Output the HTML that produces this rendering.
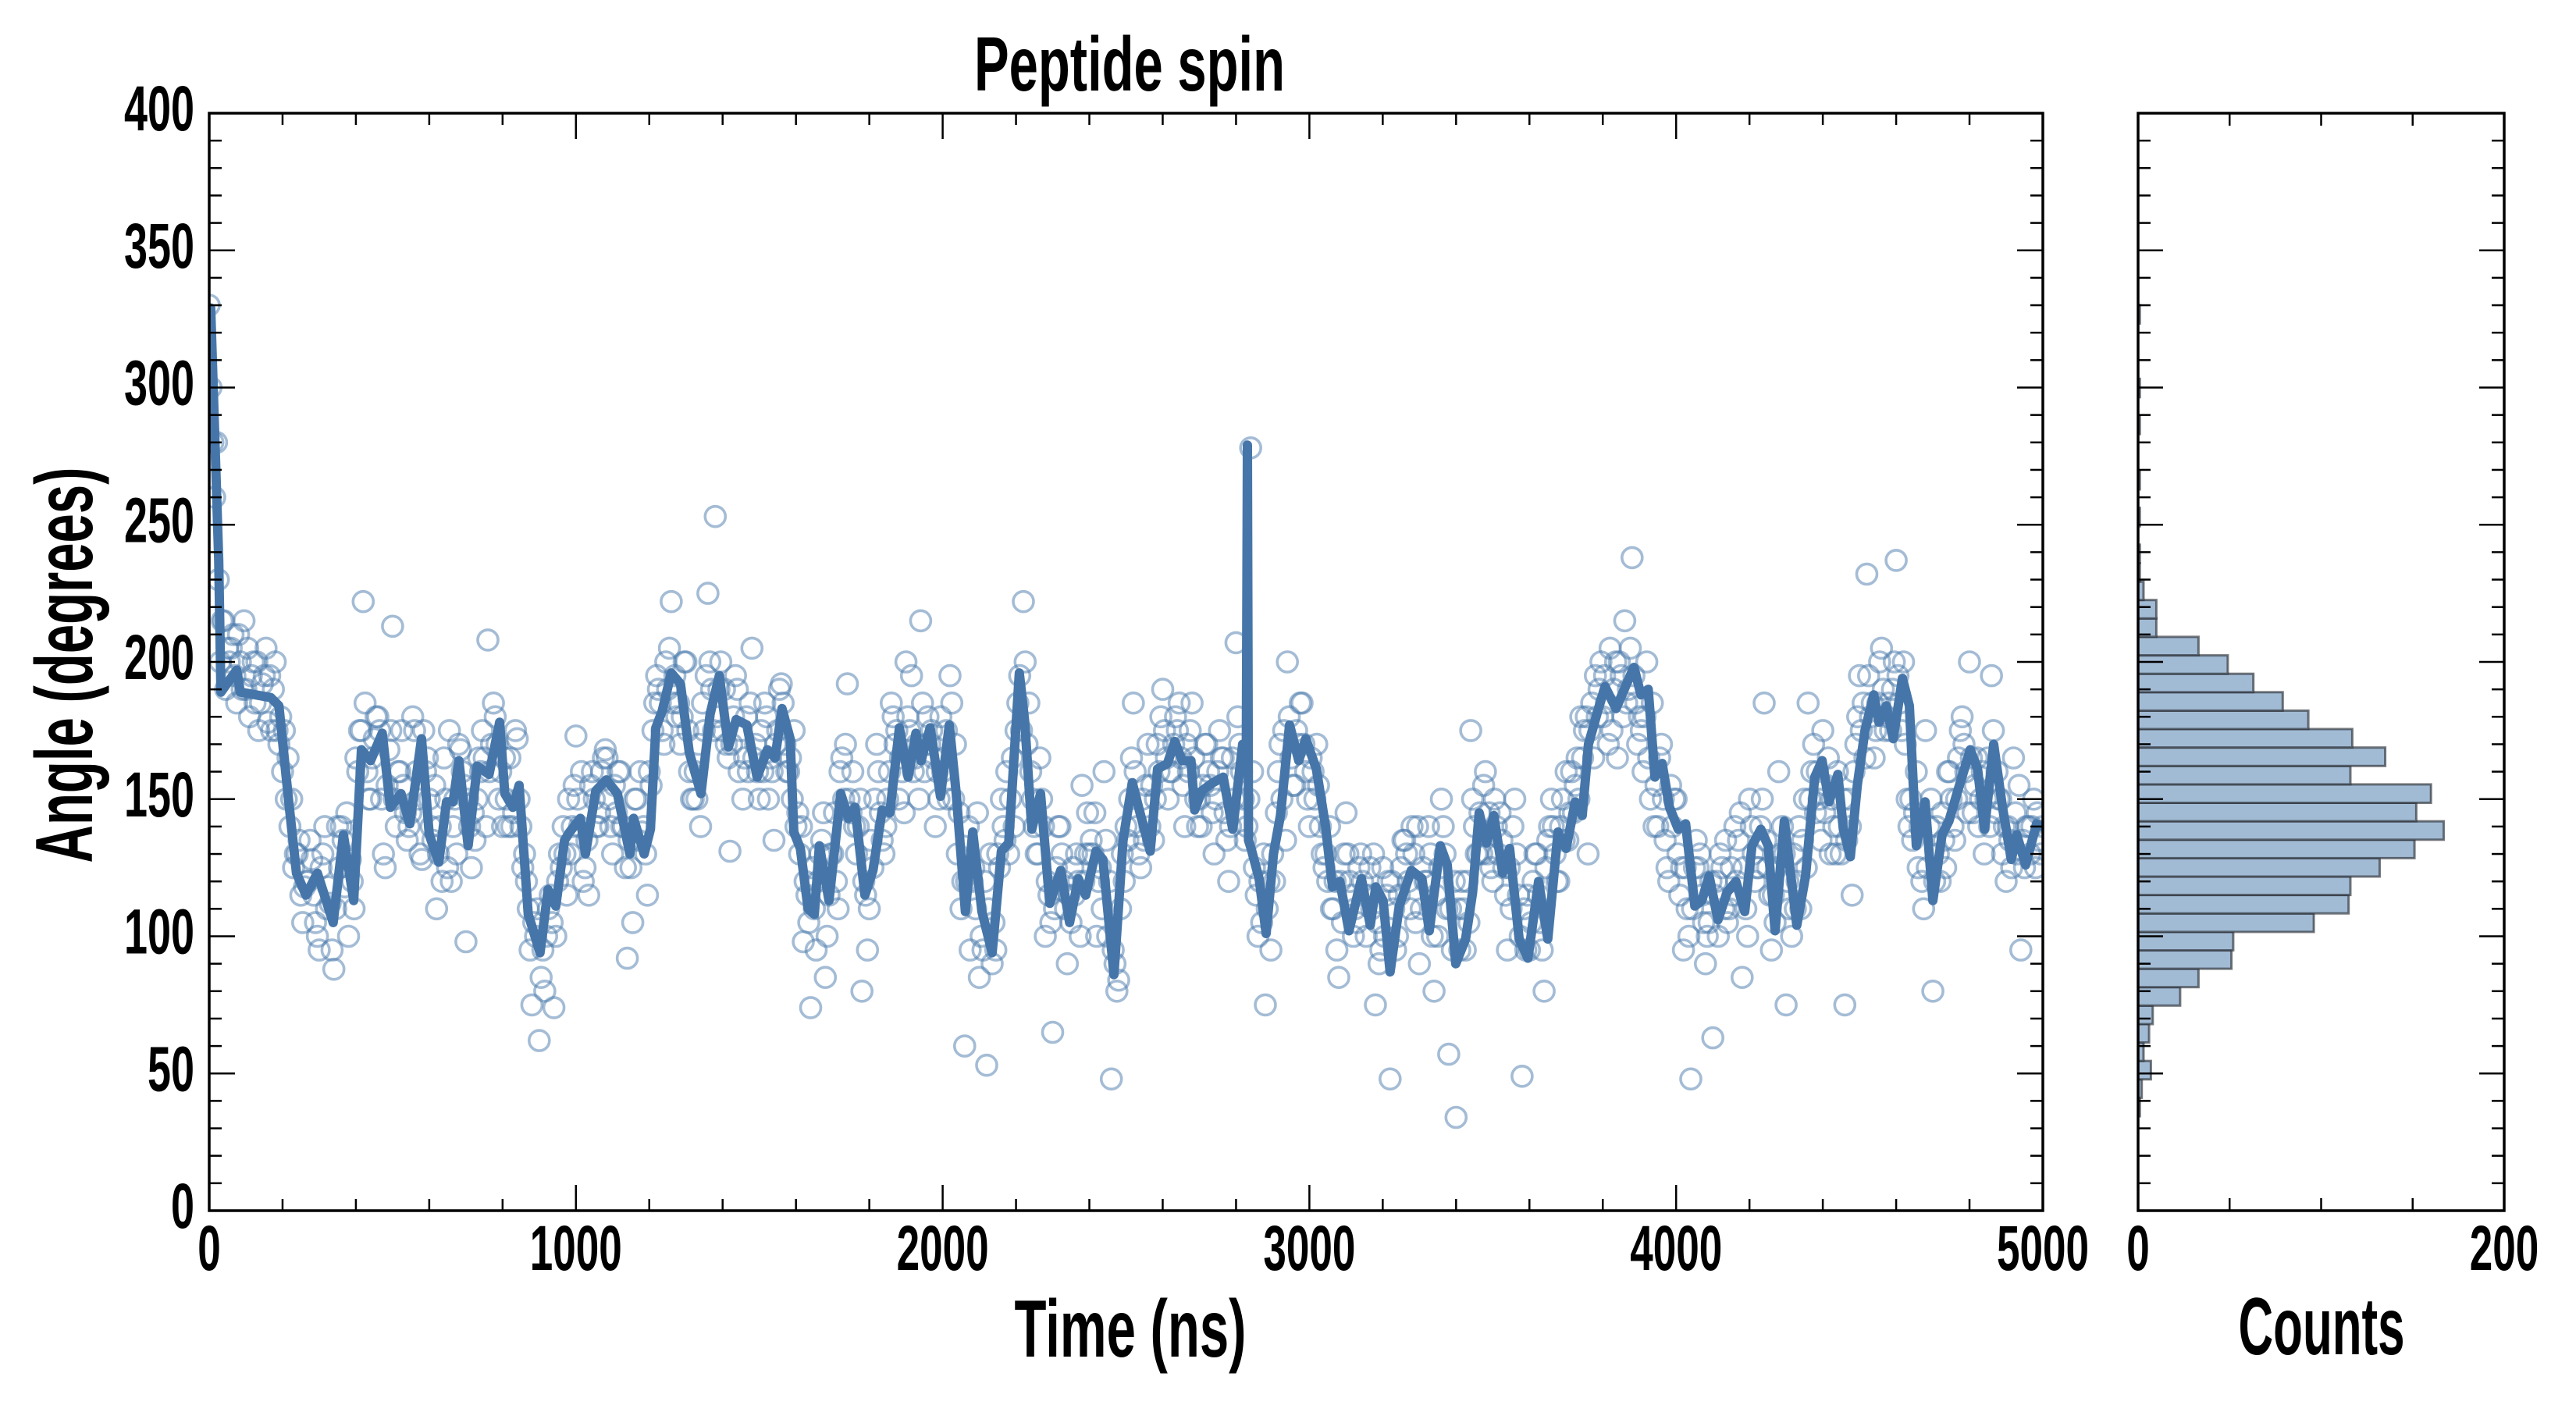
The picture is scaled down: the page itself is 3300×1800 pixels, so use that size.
<!DOCTYPE html>
<html><head><meta charset="utf-8"><title>Peptide spin</title>
<style>
html,body{margin:0;padding:0;background:#fff;}
svg{display:block;}
text{font-family:"Liberation Sans Narrow","Liberation Sans",sans-serif;font-weight:bold;fill:#000;}
</style></head>
<body>
<svg id="chart" width="3300" height="1800" viewBox="0 0 3300 1800" xmlns="http://www.w3.org/2000/svg">
  <defs>
    <clipPath id="mainClip"><rect x="268" y="145" width="2349" height="1406"/></clipPath>
  </defs>
  <text x="1447" y="116" font-size="98" text-anchor="middle" textLength="398" lengthAdjust="spacingAndGlyphs">Peptide spin</text>
  <g id="mainPlot"></g>
  <g id="histPlot"></g>
  <text x="1448" y="1738" font-size="104" text-anchor="middle" textLength="297" lengthAdjust="spacingAndGlyphs">Time (ns)</text>
  <text x="2974" y="1735" font-size="104" text-anchor="middle" textLength="213" lengthAdjust="spacingAndGlyphs">Counts</text>
  <text x="0" y="0" font-size="104" text-anchor="middle" textLength="507" lengthAdjust="spacingAndGlyphs" transform="translate(118,852) rotate(-90)">Angle (degrees)</text>
</svg>
<script>
const lineT = [0,4,26,32,75,85,168,190,217,238,264,295,338,366,394,415,440,472,494,523,547,579,600,626,647,665,681,706,731,763,792,806,828,845,870,902,924,945,969,983,1012,1026,1054,1083,1113,1147,1157,1186,1203,1218,1235,1260,1285,1309,1341,1366,1391,1416,1437,1466,1494,1522,1543,1562,1584,1594,1612,1633,1650,1664,1690,1722,1743,1761,1788,1810,1835,1856,1882,1906,1927,1941,1966,1994,2018,2037,2062,2082,2107,2135,2160,2180,2209,2224,2243,2267,2292,2322,2346,2370,2390,2418,2437,2467,2492,2517,2540,2566,2586,2613,2633,2653,2677,2687,2707,2737,2765,2791,2818,2828,2831,2834,2841,2863,2882,2902,2921,2946,2971,2990,3019,3044,3063,3083,3108,3142,3166,3181,3201,3220,3245,3278,3307,3327,3357,3376,3399,3426,3445,3463,3483,3503,3527,3546,3572,3596,3625,3650,3678,3700,3725,3744,3761,3786,3806,3836,3865,3885,3904,3924,3942,3962,3982,4006,4026,4051,4070,4090,4114,4139,4163,4187,4207,4231,4251,4270,4295,4329,4353,4378,4398,4417,4441,4456,4475,4494,4515,4539,4553,4573,4592,4617,4636,4655,4679,4700,4725,4744,4768,4802,4822,4841,4866,4890,4914,4929,4953,4983,5000];
const lineV = [320,329,237,189,197,189,187,184,149,123,115,123,105,137,113,168,164,174,147,152,141,172,137,127,149,149,164,133,162,159,178,152,147,155,108,94,117,111,135,138,143,130,153,157,152,130,143,130,139,176,182,196,192,167,152,181,195,169,179,177,158,168,165,183,172,138,132,110,108,133,113,152,143,147,115,124,146,145,176,158,174,164,176,151,177,152,109,138,109,94,131,134,196,178,139,152,112,124,105,121,115,131,128,86,135,156,144,131,161,163,171,164,164,146,153,156,158,139,170,168,279,135,132,121,101,130,144,177,164,172,161,140,118,120,102,121,104,118,113,87,111,124,121,102,133,126,90,99,116,145,134,144,123,132,99,92,120,99,138,132,149,144,170,182,191,183,192,198,188,190,158,163,147,139,141,111,113,122,106,116,120,109,133,139,133,102,142,104,122,158,164,149,159,139,129,155,175,188,178,184,172,194,184,133,149,113,137,142,153,168,161,139,170,147,128,137,126,141,140];
const scatterAStart = 0, scatterAStep = 20;
const scatterA = [330,280,215,205,210,190,200,185,178,200,
160,140,130,118,128,95,110,88,140,100,
165,222,150,180,125,213,160,135,175,128,
150,110,165,120,170,98,145,160,208,180,
140,165,172,130,75,62,100,74,125,150,
173,120,155,140,168,130,160,92,150,138,
160,195,170,222,185,200,150,140,225,253,
175,131,190,165,205,150,180,135,192,160,
140,98,74,120,85,130,160,192,140,80,
110,170,130,185,150,200,160,215,180,140,
160,195,130,60,120,85,53,105,150,130,
175,222,160,130,100,65,140,90,115,155,
130,100,160,48,84,140,185,125,170,150,
190,160,175,140,185,150,170,130,165,120,
207,150,278,100,75,130,170,200,155,185,
140,170,125,110,85,145,100,130,115,75,
125,48,100,135,140,90,120,80,150,57,
34,110,175,130,160,120,145,95,150,49,
95,130,80,150,120,160,145,180,130,195,
180,205,165,215,238,180,200,140,170,120,
150,95,48,125,90,63,130,105,140,85,
150,125,185,95,160,75,130,110,185,145,
175,130,160,75,115,195,232,165,205,185,
237,200,150,125,175,80,120,160,135,180,
200,165,130,195,150,120,165,95,140,125,140];
const scatterBStart = 10, scatterBStep = 20;
const scatterB = [280,200,205,195,190,180,200,195,175,170,
150,125,115,120,105,130,112,140,118,120,
175,160,172,150,168,140,155,145,150,160,
135,140,125,150,160,140,150,165,170,150,
150,145,140,110,100,95,115,120,130,140,
140,135,150,160,150,145,140,125,135,130,
175,185,190,195,180,160,150,175,190,190,
170,180,175,160,170,160,165,175,170,150,
130,115,110,135,115,120,150,145,140,115,
125,145,150,170,160,175,170,160,175,150,
175,150,110,140,110,95,130,130,135,165,
195,170,140,150,115,125,120,105,120,130,
130,125,100,90,130,150,140,135,155,160,
165,170,165,160,150,155,155,160,145,165,
170,140,125,105,120,145,175,165,170,160,
160,140,120,120,105,120,105,115,110,90,
115,110,125,120,105,125,130,100,130,95,
95,120,140,130,145,140,125,110,115,95,
120,105,135,130,150,145,165,175,185,190,
185,190,195,190,185,160,150,140,135,140,
115,110,125,115,105,120,110,125,135,110,
130,140,125,105,140,110,120,150,160,150,
155,140,130,150,170,185,180,185,175,190,
185,150,145,120,140,140,135,150,165,160,
145,150,165,145,130,135,130,125,140,135];
const scatterCStart = 5, scatterCStep = 20;
const scatterC = [300,230,190,210,200,205,185,192,195,175,
175,150,135,120,115,125,118,110,135,128,
160,185,165,175,155,150,175,140,160,175,
140,130,150,140,168,150,135,175,160,170,
165,140,150,120,105,85,110,100,140,130,
150,125,160,145,165,155,140,135,150,140,
155,190,200,185,170,175,160,185,200,180,
190,170,160,180,165,175,150,170,185,165,
145,120,125,130,100,145,165,150,130,120,
135,160,140,180,165,180,165,185,170,160,
165,185,145,120,125,100,110,95,140,150,
185,200,150,165,120,110,130,115,130,120,
135,120,135,95,110,135,160,150,140,170,
175,160,185,170,165,140,160,150,165,140,
180,135,160,120,110,120,150,180,175,170,
165,155,130,110,120,130,110,120,125,105,
100,120,115,130,130,110,140,115,140,110,
110,95,150,145,130,150,135,125,130,110,
105,115,125,140,140,135,155,165,175,180,
195,175,200,185,195,175,165,155,150,155,
130,125,110,130,100,115,125,110,120,125,
140,125,135,115,130,120,110,135,150,160,
145,150,140,135,160,175,195,175,190,175,
195,170,135,140,125,120,145,160,150,170,
165,140,150,175,150,140,145,135,130,145];
const scatterDStart = 15, scatterDStep = 20;
const scatterD = [260,215,200,185,215,195,175,205,190,180,
165,130,105,135,100,140,95,125,145,110,
175,150,180,130,175,160,145,180,130,165,
155,120,175,130,155,125,165,140,185,160,
140,175,125,95,110,80,105,130,115,155,
160,115,140,165,140,160,125,105,160,115,
185,175,205,180,200,150,170,195,175,200,
165,195,150,185,160,185,160,190,160,175,
140,105,95,145,130,110,170,160,150,95,
150,135,160,175,145,195,150,170,165,180,
150,170,120,95,145,120,90,125,160,140,
175,185,130,140,105,140,110,125,100,145,
145,110,120,80,120,165,130,155,135,180,
150,180,155,175,140,170,145,175,135,150,
160,150,115,130,95,160,135,155,185,150,
150,130,140,95,130,115,125,100,130,95,
120,95,135,110,140,120,100,125,110,120,
120,105,130,155,125,130,115,140,100,115,
130,95,140,120,135,160,150,180,165,200,
170,200,180,205,170,180,185,165,125,150,
125,100,135,105,120,100,135,115,145,100,
120,150,115,125,130,100,140,125,170,135,
165,130,150,140,180,165,185,200,180,200,
175,140,160,110,150,130,125,140,175,145,
155,160,140,160,140,125,155,140,150,130];
const histBinStart = 34.4, histBinWidth = 6.72;
const histCounts = [1,2,7,3,6,8,23,33,51,52,96,115,116,132,151,167,152,160,116,135,117,93,79,63,49,33,10,10,3,1,1,0,1,0,1,0,0,1,0,1,0,0,0,1];
const yTickLabels = ["0","50","100","150","200","250","300","350","400"];
const xTickLabels = ["0","1000","2000","3000","4000","5000"];
const histXTickLabels = ["0","200"];

const NS = "http://www.w3.org/2000/svg";
const M = {l:268, r:2617, t:145, b:1551};
const H = {l:2739, r:3208};
const xMax = 5000, yMax = 400, cMax = 200;
function xs(t){return M.l + t/xMax*(M.r-M.l);}
function ys(v){return M.b - v/yMax*(M.b-M.t);}
function cs(c){return H.l + c/cMax*(H.r-H.l);}
function mk(tag, attrs, parent){const e=document.createElementNS(NS,tag);for(const k in attrs)e.setAttribute(k,attrs[k]);parent.appendChild(e);return e;}

const main = document.getElementById('mainPlot');
const hist = document.getElementById('histPlot');

const sg = mk('g',{'clip-path':'url(#mainClip)'},main);


function drawScatter(arr,start,step){
  arr.forEach((v,i)=>{
    const c = mk('circle',{cx:xs(start+i*step).toFixed(1),cy:ys(v).toFixed(1),r:13,fill:'none',stroke:'#4a79ab','stroke-width':3.6,'stroke-opacity':0.5},sg);
    
    
  });
}
drawScatter(scatterA,scatterAStart,scatterAStep);
drawScatter(scatterB,scatterBStart,scatterBStep);
drawScatter(scatterC,scatterCStart,scatterCStep);
drawScatter(scatterD,scatterDStart,scatterDStep);

let d = lineT.map((t,i)=>(i?'L':'M')+xs(t).toFixed(1)+','+ys(lineV[i]).toFixed(1)).join(' ');
const ln = mk('path',{d:d,fill:'none',stroke:'#4676a9','stroke-width':12,'stroke-linejoin':'round','stroke-linecap':'butt','clip-path':'url(#mainClip)'},main);



histCounts.forEach((c,i)=>{
  if(c<=0) return;
  const v0 = histBinStart+i*histBinWidth, v1 = v0+histBinWidth;
  const r = mk('rect',{x:H.l,y:ys(v1).toFixed(1),width:(cs(c)-H.l).toFixed(1),height:(ys(v0)-ys(v1)).toFixed(1),fill:'#a2bbd5',stroke:'#2b2f36','stroke-opacity':0.65,'stroke-width':3},hist);
  
  
});

function tick(parent,x1,y1,x2,y2,w){mk('line',{x1:x1,y1:y1,x2:x2,y2:y2,stroke:'#000','stroke-width':w||2.5},parent);}
const axMain = mk('g',{},main);


for(let v=0; v<=yMax; v+=10){
  const y=ys(v), maj=(v%50===0), L=maj?33:16;
  tick(axMain,M.l,y,M.l+L,y); tick(axMain,M.r,y,M.r-L,y);
}
for(let t=0; t<=xMax; t+=200){
  const x=xs(t), maj=(t%1000===0), L=maj?33:15;
  tick(axMain,x,M.b,x,M.b-L); tick(axMain,x,M.t,x,M.t+L);
}
mk('rect',{x:M.l,y:M.t,width:M.r-M.l,height:M.b-M.t,fill:'none',stroke:'#000','stroke-width':3.5},axMain);
yTickLabels.forEach((s,i)=>{
  const v=i*50;
  const tx=mk('text',{x:249,y:(ys(v)+22).toFixed(1),'font-size':82,'text-anchor':'end',textLength:s.length*30,lengthAdjust:'spacingAndGlyphs'},axMain);
  tx.textContent=s;
  
  
});
xTickLabels.forEach((s,i)=>{
  const t=i*1000;
  const tx=mk('text',{x:xs(t).toFixed(1),y:1627,'font-size':82,'text-anchor':'middle',textLength:s.length*29.5,lengthAdjust:'spacingAndGlyphs'},axMain);
  tx.textContent=s;
  
  
});

const axHist = mk('g',{},hist);


for(let v=0; v<=yMax; v+=10){
  const y=ys(v), maj=(v%50===0), L=maj?32:16;
  tick(axHist,H.l,y,H.l+L,y); tick(axHist,H.r,y,H.r-L,y);
}
for(let c=0; c<=cMax; c+=50){
  const x=cs(c);
  tick(axHist,x,M.b,x,M.b-16); tick(axHist,x,M.t,x,M.t+16);
}
mk('rect',{x:H.l,y:M.t,width:H.r-H.l,height:M.b-M.t,fill:'none',stroke:'#000','stroke-width':3.5},axHist);
histXTickLabels.forEach((s,i)=>{
  const c=i*200;
  const tx=mk('text',{x:cs(c).toFixed(1),y:1627,'font-size':82,'text-anchor':'middle',textLength:s.length*29.5,lengthAdjust:'spacingAndGlyphs'},axHist);
  tx.textContent=s;
  
  
});
</script>
</body></html>
